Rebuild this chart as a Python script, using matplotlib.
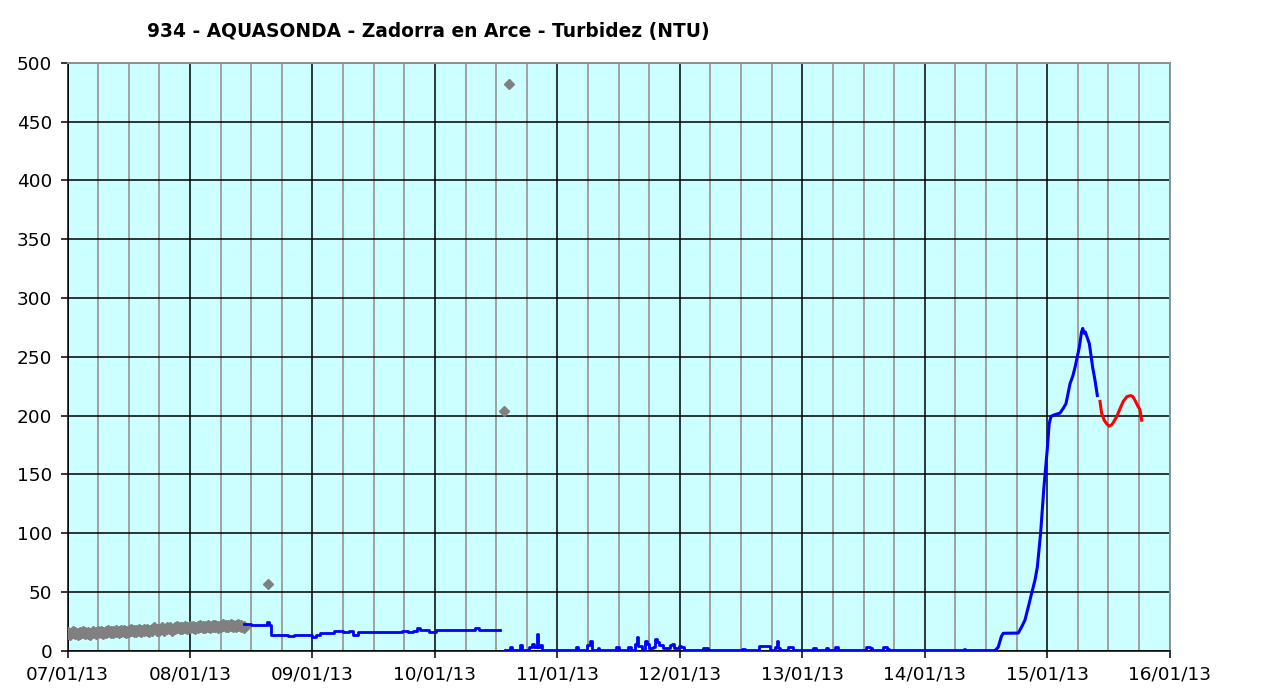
import numpy as np
import pandas as pd
import matplotlib
matplotlib.use('Agg')
import matplotlib.pyplot as plt
import matplotlib.dates as mdates

base = pd.Timestamp('2013-01-07')

# gray points (older readings), every 30 min from 07/01 00:00
gray_vals = [15, 14, 16, 15, 14, 15, 16, 15, 15, 14, 16, 15, 16, 16, 15, 16, 17, 16,
             16, 17, 16, 17, 17, 16, 17, 18, 17, 17, 18, 17, 18, 18, 17, 18, 19, 18,
             18, 19, 18, 19, 19, 18, 19, 20, 19, 19, 20, 19, 20, 20, 19, 20, 21, 20,
             20, 21, 20, 21, 21, 20, 21, 22, 21, 21, 22, 21, 21, 22, 21, 20]
# isolated gray outliers (days after 07/01, value)
out_days = [1.637, 3.564, 3.607]
out_vals = [56.7, 204, 482]

# blue series, first stretch
blueA_days = [1.441, 1.50, 1.60, 1.63, 1.645, 1.66, 1.75, 1.80, 1.85, 1.95, 2.0, 2.03,
              2.06, 2.15, 2.18, 2.25, 2.30, 2.33, 2.37, 2.45, 2.60, 2.70, 2.73, 2.78,
              2.82, 2.85, 2.88, 2.92, 2.95, 3.0, 3.01, 3.30, 3.33, 3.36, 3.53]
blueA_vals = [22.4, 22, 22, 24, 22, 13, 13, 12.5, 13, 13, 12, 13,
              15, 15, 16.5, 16, 16.5, 13.5, 15.5, 15.5, 15.5, 15.5, 16.5, 16,
              17, 19.5, 17.5, 18, 16, 16, 17.8, 17.8, 19, 17.8, 17.8]

# blue series, low readings after the gap (stepped)
blueB_days = [3.57, 3.60, 3.615, 3.63, 3.68, 3.695, 3.71, 3.77, 3.79, 3.81, 3.83, 3.836,
              3.845, 3.86, 3.875, 3.99, 4.00, 4.15, 4.17, 4.24, 4.266, 4.28, 4.33, 4.34,
              4.48, 4.50, 4.58, 4.60, 4.63, 4.648, 4.66, 4.69, 4.715, 4.73, 4.745, 4.78,
              4.80, 4.815, 4.83, 4.86, 4.92, 4.94, 4.955, 4.99, 5.01, 5.03, 5.19, 5.22,
              5.23, 5.51, 5.53, 5.65, 5.72, 5.74, 5.78, 5.795, 5.805, 5.82, 5.88, 5.90,
              5.92, 6.09, 6.11, 6.19, 6.21, 6.27, 6.29, 6.52, 6.55, 6.57, 6.66, 6.69,
              6.71, 7.32, 7.33, 7.575]
blueB_vals = [0.5, 0.5, 3.5, 0.5, 1, 5, 1, 3, 6, 3, 5, 14,
              3, 5, 1, 1, 0.3, 3, 1, 5, 8, 1, 2, 0.3,
              3, 0.5, 3, 1, 6, 12, 4, 1, 8, 6, 2, 3,
              10, 7, 5, 2, 5, 6, 2, 4, 3, 0.5, 2, 2,
              0.3, 1.5, 0.3, 4, 4, 1, 3, 8, 2, 1, 3, 3,
              1, 2.5, 0.5, 2.5, 0.5, 3, 1, 3, 2, 0.3, 3, 1.5,
              0.3, 1.5, 0.3, 0.3]

# blue series, flood rise and peak
blueC_days = [7.575, 7.60, 7.625, 7.641, 7.763, 7.79, 7.818, 7.845, 7.873,
              7.90, 7.919, 7.946, 7.973, 8.0, 8.016, 8.03, 8.044, 8.07, 8.104, 8.13, 8.153,
              8.186, 8.21, 8.227, 8.262, 8.280, 8.290, 8.30, 8.311, 8.344, 8.371, 8.39, 8.409]
blueC_vals = [0.3, 3, 12, 14.8, 15, 20, 26, 37, 49,
              60, 71, 100, 139, 171, 193, 199, 200, 201, 202, 206, 210,
              227, 234, 241, 258, 271, 274, 270, 271, 261, 241, 230, 217]

# red series (latest readings)
red_days = [8.431, 8.444, 8.465, 8.485, 8.505, 8.526, 8.545, 8.567, 8.595, 8.621,
            8.65, 8.681, 8.70, 8.716, 8.74, 8.757, 8.771]
red_vals = [212, 202, 196, 193, 191, 192, 195, 199, 206, 212,
            216, 217, 216, 213, 208, 205, 196]


def to_dates(days):
    return base + pd.to_timedelta(days, unit='D')


gray_t = pd.date_range(base, periods=len(gray_vals), freq='30min')

fig = plt.figure(figsize=(12.65, 6.91), dpi=100)
ax = fig.add_axes([67.5 / 1265, 1 - 650.7 / 691, 1102.2 / 1265, 588 / 691])
ax.set_facecolor('#CCFFFF')

ax.plot(gray_t, gray_vals, linestyle='none', marker='D', markersize=6,
        color='#808080', zorder=3)
ax.plot(to_dates(out_days), out_vals, linestyle='none', marker='D', markersize=5,
        color='#808080', zorder=3)
ax.plot(to_dates(blueA_days), blueA_vals, color='#0000FF', lw=2, zorder=3,
        drawstyle='steps-post')
ax.plot(to_dates(blueB_days), blueB_vals, color='#0000FF', lw=2, zorder=3,
        drawstyle='steps-post')
ax.plot(to_dates(blueC_days), blueC_vals, color='#0000FF', lw=2.2, zorder=3)
ax.plot(to_dates(red_days), red_vals, color='#FF0000', lw=2.2, zorder=3)

ax.set_xlim(base, base + pd.Timedelta(days=9))
ax.set_ylim(0, 500)
ax.set_yticks(np.arange(0, 501, 50))
ax.xaxis.set_major_locator(mdates.DayLocator())
ax.xaxis.set_major_formatter(mdates.DateFormatter('%d/%m/%y'))
ax.xaxis.set_minor_locator(mdates.HourLocator(byhour=[6, 12, 18]))

ax.grid(which='minor', axis='x', color='#A0A0A0', lw=1.4, zorder=1)
ax.grid(which='major', axis='x', color='black', lw=1.1, zorder=2)
ax.grid(which='major', axis='y', color='black', lw=1.1, zorder=2)
ax.set_axisbelow(True)

ax.tick_params(axis='both', which='major', labelsize=13.3, length=5, width=1.1,
               colors='black', pad=6)
ax.tick_params(axis='x', which='minor', length=0)
for s in ['left', 'bottom']:
    ax.spines[s].set_color('black')
    ax.spines[s].set_linewidth(1.1)
for s in ['top', 'right']:
    ax.spines[s].set_color('#909090')
    ax.spines[s].set_linewidth(1.4)

fig.text(147 / 1265, 1 - 32 / 691, '934 - AQUASONDA - Zadorra en Arce - Turbidez (NTU)',
         fontsize=13.4, fontweight='bold', ha='left', va='center')

fig.savefig('out.png', dpi=100)
